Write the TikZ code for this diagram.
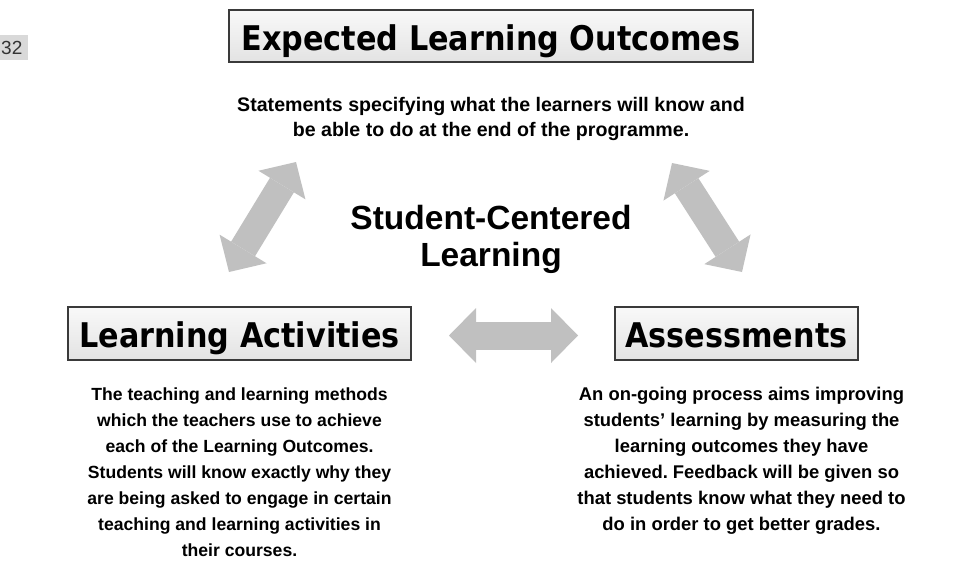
\documentclass[tikz,border=0pt]{standalone}
\usepackage{fontspec}
\setmainfont{Liberation Sans}
\newfontfamily\boxfont{DejaVu Sans}[FakeStretch=0.89]
\usetikzlibrary{arrows.meta, positioning}
\frenchspacing

\definecolor{arrowgray}{HTML}{C0C0C0}
\definecolor{boxline}{HTML}{3A3A3A}
\definecolor{tagfill}{HTML}{D9D9D9}

\begin{document}
\begin{tikzpicture}[
    x=1pt, y=-1pt,
    node distance=30pt,
    headbox/.style={rectangle, draw=boxline, line width=1.2pt, top color=gray!5, bottom color=gray!22, minimum height=52pt, inner sep=0pt, text height=27pt, text depth=0pt, font=\boxfont\bfseries\fontsize{34}{40}\selectfont},
    desc/.style={align=center, inner sep=0pt, font=\bfseries\fontsize{17.6}{26}\selectfont},
    blockarrow/.style={draw=arrowgray, line width=28pt, {Triangle[length=27pt,width=55pt,line width=0pt]}-{Triangle[length=27pt,width=55pt,line width=0pt]}}
]
\useasboundingbox (0,0) rectangle (973,582);

% page tag in the corner
\node[fill=tagfill, minimum width=28pt, minimum height=25pt, inner sep=0pt, anchor=north west] (pagetag) at (0,35) {};
\node[anchor=west, inner sep=0pt, text=black!80, font=\fontsize{19}{22}\selectfont] (pagenum) at (1,48) {32};

% the three headings
\node[headbox, minimum width=524pt, text height=28pt] (outcomes) at (491,36) {Expected Learning Outcomes};
\node[headbox, minimum width=343pt, minimum height=53pt] (activities) at (239.5,333.5) {Learning Activities};
\node[headbox, minimum width=243pt, minimum height=53pt] (assess) at (736.5,333.5) {Assessments};

% descriptions under each heading
\node[desc, below=34pt of outcomes, font=\bfseries\fontsize{19.6}{25}\selectfont] (outcomestext) {Statements specifying what the learners will know and\\ be able to do at the end of the programme.};
\node[desc, below=27pt of activities] (activitiestext) {The teaching and learning methods\\ which the teachers use to achieve\\ each of the Learning Outcomes.\\ Students will know exactly why they\\ are being asked to engage in certain\\ teaching and learning activities in\\ their courses.};
\node[desc, below=26pt of assess, xshift=5pt, font=\bfseries\fontsize{18.4}{26}\selectfont] (assesstext) {An on-going process aims improving\\ students' learning by measuring the\\ learning outcomes they have\\ achieved. Feedback will be given so\\ that students know what they need to\\ do in order to get better grades.};

% centre
\node[align=center, inner sep=0pt, anchor=north, font=\bfseries\fontsize{33.5}{37}\selectfont] (scl) at (491,205) {Student-Centered\\ Learning};

% block arrows
\coordinate (lefta) at (229,272);
\coordinate (leftb) at (296,162);
\coordinate (righta) at (742,272);
\coordinate (rightb) at (672,163);
\coordinate (mida) at (449,335.5);
\coordinate (midb) at (578,335.5);
\draw[blockarrow] (lefta) -- (leftb);
\draw[blockarrow] (righta) -- (rightb);
\draw[blockarrow] (mida) -- (midb);
\end{tikzpicture}
\end{document}
